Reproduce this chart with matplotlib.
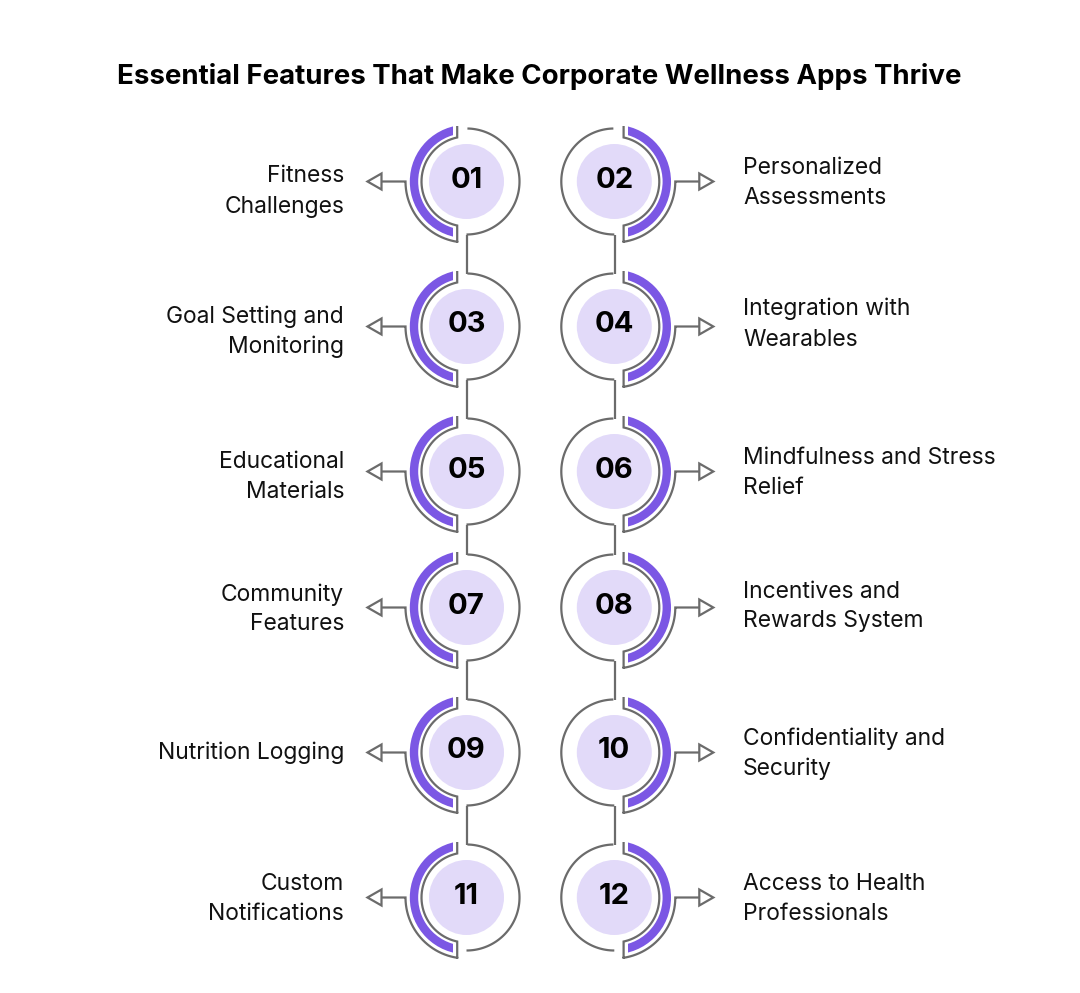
import matplotlib
matplotlib.use('Agg')
import matplotlib.pyplot as plt
import numpy as np
from matplotlib.patches import Circle, Wedge, Rectangle, Polygon

W, H = 1080, 993
GRAY = '#6b6b6b'
PURPLE = '#7b57e4'
LIGHT = '#e2daf9'

title = 'Essential Features That Make Corporate Wellness Apps Thrive'
numbers_left = ['01', '03', '05', '07', '09', '11']
numbers_right = ['02', '04', '06', '08', '10', '12']
labels_left = [['Fitness', 'Challenges'], ['Goal Setting and', 'Monitoring'], ['Educational', 'Materials'],
               ['Community', 'Features'], ['Nutrition Logging'], ['Custom', 'Notifications']]
labels_right = [['Personalized', 'Assessments'], ['Integration with', 'Wearables'], ['Mindfulness and Stress', 'Relief'],
                ['Incentives and', 'Rewards System'], ['Confidentiality and', 'Security'], ['Access to Health', 'Professionals']]
row_y = [181.5, 326.5, 471.5, 607.5, 752.5, 897.5]
left_text_y = [175, 315, 460, 593, 751, 883]
right_text_y = [167, 308, 457, 590, 738, 883]
left_cx = 466.5
right_cx = 614.3

plt.rcParams['font.family'] = ['Inter', 'DejaVu Sans']
fig = plt.figure(figsize=(W / 100, H / 100), dpi=100)
ax = fig.add_axes([0, 0, 1, 1])
ax.set_xlim(0, W)
ax.set_ylim(H, 0)
ax.axis('off')

LW = 1.6


def arc(r, a0, a1):
    t = np.radians(np.linspace(a0, a1, 80))
    return r * np.cos(t), r * np.sin(t)


def unit(cx, cy, side, num):
    # side=-1 left column, side=1 right column
    ax.add_patch(Circle((cx, cy), 37.5, fc=LIGHT, ec='none'))

    # thin open circle on the far side
    x, y = arc(53, -89, 90)
    ax.plot(cx - side * x, cy + y, color=GRAY, lw=LW, solid_capstyle='butt')

    # purple band cut off by a vertical edge
    if side == 1:
        w = Wedge((cx, cy), 56.7, -90, 90, width=8.4, fc=PURPLE, ec='none')
        cut = Rectangle((cx + 13.2, cy - 70), 70 - 13.2, 140, transform=ax.transData)
    else:
        w = Wedge((cx, cy), 56.7, 90, 270, width=8.4, fc=PURPLE, ec='none')
        cut = Rectangle((cx - 70, cy - 70), 70 - 13.2, 140, transform=ax.transData)
    ax.add_patch(w)
    w.set_clip_path(cut)

    # inner arc + end ticks + outer lower arc + arrow stem
    dx = 9.3
    a = np.degrees(np.arcsin(dx / 45))
    x, y = arc(45, -90 + a, 90 - a)
    px = [dx, dx] + list(x) + [dx]
    py = [-55.5, y[0]] + list(y) + [61]
    b = np.degrees(np.arcsin(dx / 61))
    x2, y2 = arc(61, 90 - b, 0)
    px += list(x2) + [85]
    py += list(y2) + [0]
    ax.plot(cx + side * np.array(px), cy + np.array(py), color=GRAY, lw=LW, solid_joinstyle='miter', solid_capstyle='butt')

    # arrow head
    ax.add_patch(Polygon([(cx + side * 85, cy - 8), (cx + side * 85, cy + 8), (cx + side * 99, cy)],
                         closed=True, fc='white', ec=GRAY, lw=LW, joinstyle='miter'))

    ax.text(cx, cy + 6, num, ha='center', va='baseline', fontsize=21, fontweight='bold', color='black')


for col_cx, side, nums in [(left_cx, -1, numbers_left), (right_cx, 1, numbers_right)]:
    for i, cy in enumerate(row_y):
        unit(col_cx, cy, side, nums[i])
        if i < len(row_y) - 1:
            ax.plot([col_cx + 0.5, col_cx + 0.5], [cy + 53, row_y[i + 1] - 53], color=GRAY, lw=LW, solid_capstyle='butt')

ax.text(539, 76.5, title, ha='center', va='center', fontsize=19.9, fontweight='bold', color='black')

for i in range(len(row_y)):
    for j, s in enumerate(labels_left[i]):
        ax.text(344, left_text_y[i] + 30 * j + 7.5, s, ha='right', va='baseline', fontsize=16.45, color='#111111')
    for j, s in enumerate(labels_right[i]):
        ax.text(743, right_text_y[i] + 30 * j + 7.5, s, ha='left', va='baseline', fontsize=16.45, color='#111111')

fig.savefig('out.png', dpi=100)
